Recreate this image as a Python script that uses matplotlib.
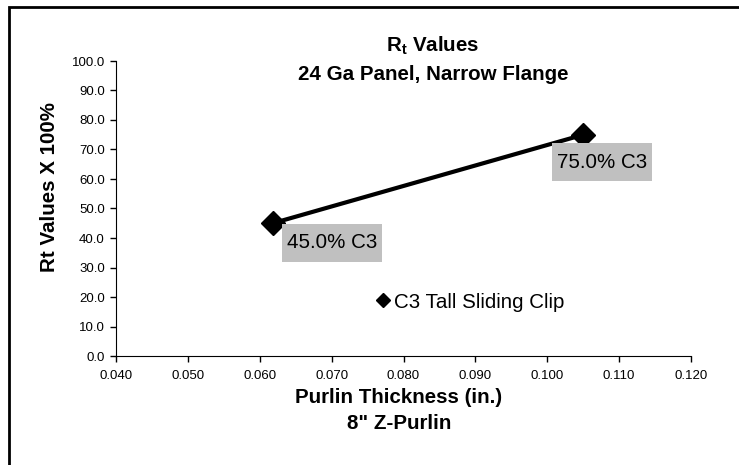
import numpy as np
import matplotlib.pyplot as plt
from matplotlib.patches import Rectangle

plt.rcParams['font.family'] = ['Liberation Sans', 'DejaVu Sans']

# dane
thickness = [0.0618, 0.105]
rt_values = [45.0, 75.0]
point_labels = ["45.0% C3", "75.0% C3"]
series_name = "C3 Tall Sliding Clip"

x_ticks = np.arange(0.04, 0.1201, 0.01)
y_ticks = np.arange(0, 100.1, 10)

W, H = 739, 465
fs = 14.8
fig = plt.figure(figsize=(W / 100, H / 100), dpi=100)
# ramka wykresu (widoczna tylko lewa i gorna krawedz)
fig.patches.append(Rectangle((8.5 / W, -0.05), 1.2, (H - 7.5) / H + 0.05,
                             transform=fig.transFigure, fill=False,
                             edgecolor='black', linewidth=2))

ax = fig.add_axes([116 / W, 1 - 356 / H, (691 - 116) / W, (356 - 61) / H])
ax.plot(thickness, rt_values, color='black', linewidth=3.0, marker='D',
        markersize=12, label=series_name)

# przesuniecia etykiet w pikselach (recznie przesuniete jak w excelu)
label_offsets = [(14, -10), (-26, -18)]
for x, y, lab, off in zip(thickness, rt_values, point_labels, label_offsets):
    ax.annotate(lab, (x, y), xytext=off, textcoords='offset pixels',
                ha='left', va='top', fontsize=fs,
                bbox=dict(boxstyle='square,pad=0.25', facecolor='#c0c0c0',
                          edgecolor='none', mutation_aspect=1.8))

ax.set_xlim(0.04, 0.12)
ax.set_ylim(0, 100)
ax.set_xticks(x_ticks)
ax.set_yticks(y_ticks)
ax.set_xticklabels(["%.3f" % v for v in x_ticks])
ax.set_yticklabels(["%.1f" % v for v in y_ticks])
ax.tick_params(direction='out', length=4, width=1, labelsize=9.5)
ax.tick_params(axis='x', pad=6)
ax.tick_params(axis='y', pad=4)
for s in ['top', 'right']:
    ax.spines[s].set_visible(False)

ax.set_ylabel("Rt Values X 100%", fontsize=fs, fontweight='bold')
ax.yaxis.set_label_coords((59 - 116) / 575, (356 - 187) / 295)

fig.text(399 / W, 1 - 397 / H, "Purlin Thickness (in.)", ha='center',
         va='center', fontsize=fs, fontweight='bold')
fig.text(399 / W, 1 - 423 / H, "8\" Z-Purlin", ha='center',
         va='center', fontsize=fs, fontweight='bold')

fig.text(433 / W, 1 - 46 / H, "R$_\\mathregular{t}$ Values", ha='center',
         va='center', fontsize=fs, fontweight='bold')
fig.text(433 / W, 1 - 75 / H, "24 Ga Panel, Narrow Flange", ha='center',
         va='center', fontsize=fs, fontweight='bold')

ax.legend(loc='center left', bbox_to_anchor=((376 - 116) / 575, (356 - 302) / 295),
          frameon=False, fontsize=fs, handlelength=0.7, handletextpad=0.2,
          borderaxespad=0, borderpad=0, markerscale=0.6)
leg = ax.get_legend()
for h in leg.legend_handles:
    h.set_linestyle('none')

fig.savefig('out.png', dpi=100)
